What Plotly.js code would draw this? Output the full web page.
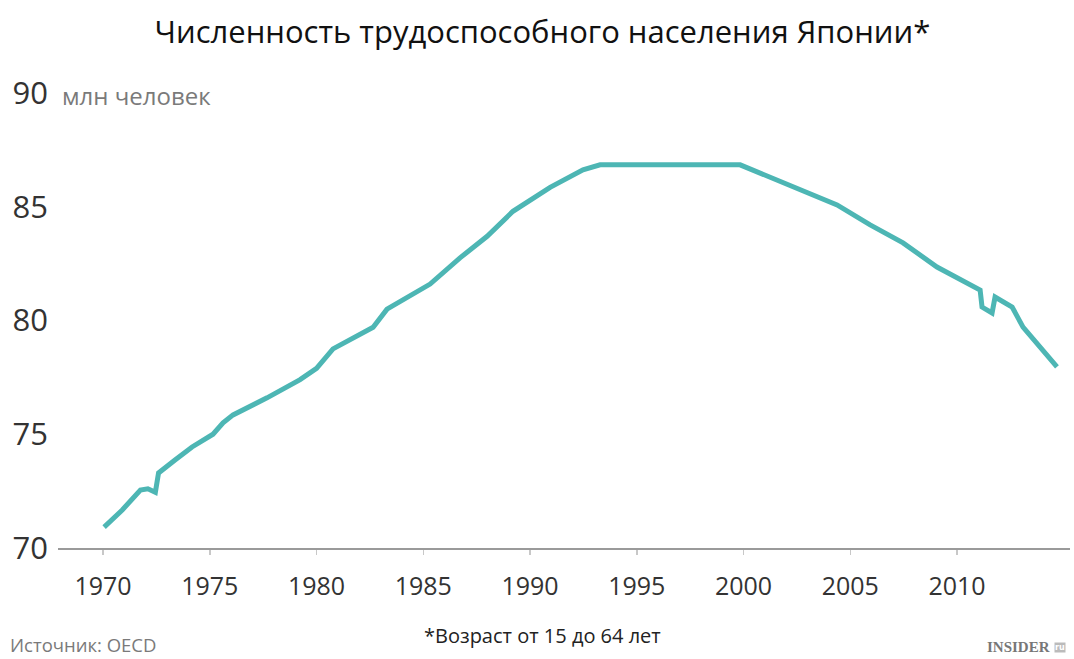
<!DOCTYPE html>
<html>
<head>
<meta charset="utf-8">
<script src="https://cdn.plot.ly/plotly-3.0.1.min.js"></script>
<style>html,body{margin:0;padding:0;background:#fff;}#chart{width:1074px;height:659px;}</style>
</head>
<body>
<div id="chart"></div>
<script>
// Data (fractional years, million people)
var years = [1970.05, 1970.9, 1971.75, 1972.1, 1972.45, 1972.6, 1973.37, 1974.17, 1975.15, 1975.62,
  1976.09, 1977.68, 1979.23, 1980.0, 1980.77, 1981.71, 1982.65, 1983.3, 1984.24, 1985.32,
  1986.72, 1987.99, 1989.2, 1990.33, 1990.94, 1992.48, 1993.28, 1999.84, 2001.24, 2002.79,
  2004.38, 2005.93, 2007.47, 2009.06, 2010.14, 2011.08, 2011.17, 2011.64, 2011.78, 2012.58,
  2013.09, 2013.89, 2014.68];
var population = [70.92, 71.67, 72.55, 72.6, 72.45, 73.3, 73.87, 74.44, 75.0, 75.5,
  75.85, 76.6, 77.4, 77.9, 78.75, 79.2, 79.7, 80.5, 81.03, 81.6,
  82.75, 83.7, 84.8, 85.52, 85.85, 86.62, 86.84, 86.84, 86.31, 85.74,
  85.08, 84.2, 83.41, 82.35, 81.8, 81.34, 80.59, 80.33, 81.03, 80.59,
  79.71, 78.84, 77.96];
var xTicks = [1970, 1975, 1980, 1985, 1990, 1995, 2000, 2005, 2010];
var yTicks = [70, 75, 80, 85, 90];

var titleText = 'Численность трудоспособного населения Японии*';
var unitText = 'млн человек';
var sourceText = 'Источник: OECD';
var noteText = '*Возраст от 15 до 64 лет';
var brandText = 'INSIDER';

var trace = {
  x: years, y: population, type: 'scatter', mode: 'lines',
  line: {color: '#4db6b4', width: 5, shape: 'linear'},
  hoverinfo: 'skip'
};

var layout = {
  width: 1074, height: 659,
  margin: {l: 58, r: 4, t: 80, b: 111},
  paper_bgcolor: '#fff', plot_bgcolor: '#fff',
  showlegend: false,
  font: {family: 'Open Sans, Noto Sans, sans-serif', color: '#333'},
  title: {text: titleText, x: 0.505, xanchor: 'center', xref: 'container', y: 0.951, yref: 'container', yanchor: 'middle',
    font: {family: 'Open Sans, Noto Sans, sans-serif', size: 31, color: '#111'}},
  xaxis: {
    range: [1967.89, 2015.29], showgrid: false, zeroline: false,
    showline: true, linecolor: '#9a9a9a', linewidth: 1.5,
    ticks: 'outside', ticklen: 5, tickcolor: '#c8c8c8', tickwidth: 1.5,
    tickvals: xTicks, ticktext: xTicks.map(String),
    tickfont: {size: 25, color: '#333'}, ticklabelstandoff: 10
  },
  yaxis: {
    range: [70, 90.57], showgrid: false, zeroline: false, showline: false,
    ticks: '', tickvals: yTicks, ticktext: yTicks.map(String),
    tickfont: {size: 31, color: '#333'}, ticklabelstandoff: 9
  },
  annotations: [
    {text: unitText, xref: 'paper', yref: 'paper', x: 0.002, y: 0.966, xanchor: 'left', yanchor: 'middle',
      showarrow: false, font: {size: 24, color: '#7a7a7a'}},
    {text: sourceText, xref: 'paper', yref: 'paper', x: -0.049, y: -0.207, xanchor: 'left', yanchor: 'middle',
      showarrow: false, font: {size: 18.5, color: '#7a7a7a'}},
    {text: noteText, xref: 'paper', yref: 'paper', x: 0.479, y: -0.188, xanchor: 'center', yanchor: 'middle',
      showarrow: false, font: {size: 20, color: '#222'}},
    {text: '<b>' + brandText + '</b>', xref: 'paper', yref: 'paper', x: 0.982, y: -0.212, xanchor: 'right', yanchor: 'middle',
      showarrow: false, font: {family: 'Liberation Serif, DejaVu Serif, serif', size: 15, color: '#777'}},
    {text: '<b>ru</b>', xref: 'paper', yref: 'paper', x: 0.996, y: -0.212, xanchor: 'right', yanchor: 'middle',
      showarrow: false, bgcolor: '#bbb', borderpad: 0,
      font: {family: 'DejaVu Sans, sans-serif', size: 8, color: '#fff'}}
  ]
};

Plotly.newPlot('chart', [trace], layout, {displayModeBar: false, staticPlot: true});
</script>
</body>
</html>
